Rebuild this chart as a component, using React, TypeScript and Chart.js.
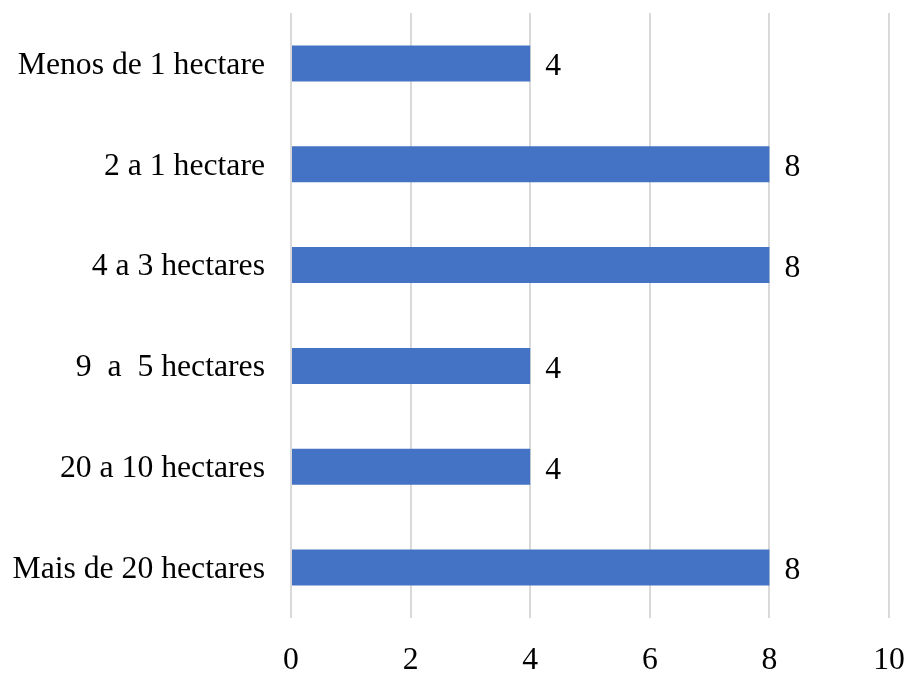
import React, { useEffect, useRef } from "react";
import { Chart, registerables } from "chart.js";

Chart.register(...registerables);

const categories = [
  "Menos de 1 hectare",
  "2 a 1 hectare",
  "4 a 3 hectares",
  "9  a  5 hectares",
  "20 a 10 hectares",
  "Mais de 20 hectares",
];
const values = [4, 8, 8, 4, 4, 8];
const xMin = 0;
const xMax = 10;
const xStep = 2;

const FONT = "'Liberation Serif', 'Times New Roman', serif";
const FS = 31.7;

const valueLabels = {
  id: "valueLabels",
  afterDatasetsDraw(chart: any) {
    const ctx = chart.ctx;
    const meta = chart.getDatasetMeta(0);
    ctx.save();
    ctx.font = `${FS}px ${FONT}`;
    ctx.fillStyle = "#000";
    ctx.textAlign = "left";
    ctx.textBaseline = "middle";
    meta.data.forEach((bar: any, i: number) => {
      ctx.fillText(String(values[i]), bar.x + 15, bar.y + 3.5);
    });
    ctx.restore();
  },
};

export default function App() {
  const ref = useRef<HTMLCanvasElement | null>(null);
  useEffect(() => {
    if (!ref.current) return;
    const chart = new Chart(ref.current, {
      type: "bar",
      data: {
        labels: categories,
        datasets: [
          {
            data: values,
            backgroundColor: "#4472C4",
            barPercentage: 0.357,
            categoryPercentage: 1,
          },
        ],
      },
      options: {
        indexAxis: "y",
        animation: false,
        responsive: false,
        layout: { padding: { top: 13, right: 22, bottom: 0, left: 0 } },
        plugins: { legend: { display: false }, tooltip: { enabled: false } },
        scales: {
          x: {
            min: xMin,
            max: xMax,
            border: { display: false },
            grid: { color: "#D9D9D9", lineWidth: 2, drawTicks: false },
            ticks: {
              stepSize: xStep,
              padding: 27,
              color: "#000",
              font: { family: FONT, size: FS, lineHeight: 1 },
            },
            afterFit(scale: any) {
              scale.height = 55;
              scale.paddingLeft = 0;
              scale.paddingRight = 0;
            },
          },
          y: {
            border: { display: false },
            grid: { display: false, drawTicks: false },
            ticks: {
              padding: 26,
              labelOffset: 2,
              color: "#000",
              font: { family: FONT, size: FS, lineHeight: 1 },
            },
            afterFit(scale: any) {
              scale.width = 291;
              scale.paddingTop = 0;
              scale.paddingBottom = 0;
            },
          },
        },
      },
      plugins: [valueLabels],
    });
    return () => chart.destroy();
  }, []);
  return (
    <div style={{ position: "fixed", left: 0, top: 0, width: 911, height: 673 }}>
      <canvas ref={ref} width={911} height={673} style={{ display: "block" }} />
    </div>
  );
}
